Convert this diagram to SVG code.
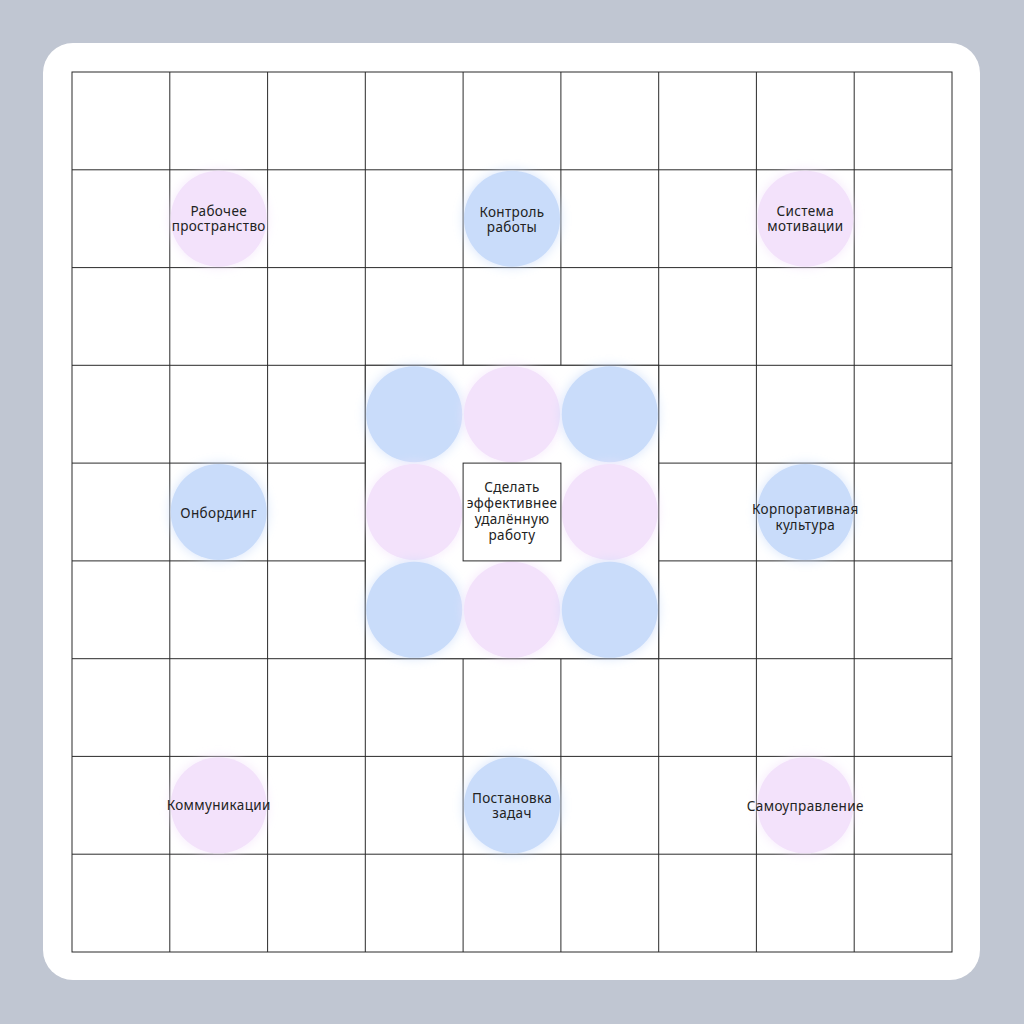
<svg xmlns="http://www.w3.org/2000/svg" width="1024" height="1024" viewBox="0 0 1024 1024">
<defs>
<filter id="glow" x="-40%" y="-40%" width="180%" height="180%">
<feGaussianBlur in="SourceGraphic" stdDeviation="6" result="b"/>
<feComponentTransfer in="b" result="bb"><feFuncA type="linear" slope="0.8"/></feComponentTransfer>
<feMerge><feMergeNode in="bb"/><feMergeNode in="SourceGraphic"/></feMerge>
</filter>
<style>
.g line{stroke:#2a2a2a;stroke-width:1}
.blue{fill:#c9dcfa;filter:url(#glow)}
.pink{fill:#f3e2fb;filter:url(#glow)}
text{font-family:"Noto Sans","DejaVu Sans",sans-serif;font-size:13.5px;letter-spacing:0.35px;fill:#222;text-anchor:middle}
</style>
</defs>
<rect width="1024" height="1024" fill="#c0c6d2"/>
<rect x="43" y="43" width="937" height="937" rx="30" fill="#ffffff"/>
<g class="g" id="grid">
<rect x="72" y="72" width="880" height="880" fill="none" stroke="#2a2a2a" stroke-width="1"/>
<line x1="169.8" y1="72" x2="169.8" y2="952"/>
<line x1="267.6" y1="72" x2="267.6" y2="952"/>
<line x1="365.3" y1="72" x2="365.3" y2="952"/>
<line x1="463.1" y1="72" x2="463.1" y2="952"/>
<line x1="560.9" y1="72" x2="560.9" y2="952"/>
<line x1="658.7" y1="72" x2="658.7" y2="952"/>
<line x1="756.4" y1="72" x2="756.4" y2="952"/>
<line x1="854.2" y1="72" x2="854.2" y2="952"/>
<line y1="169.8" x1="72" y2="169.8" x2="952"/>
<line y1="267.6" x1="72" y2="267.6" x2="952"/>
<line y1="365.3" x1="72" y2="365.3" x2="952"/>
<line y1="463.1" x1="72" y2="463.1" x2="952"/>
<line y1="560.9" x1="72" y2="560.9" x2="952"/>
<line y1="658.7" x1="72" y2="658.7" x2="952"/>
<line y1="756.4" x1="72" y2="756.4" x2="952"/>
<line y1="854.2" x1="72" y2="854.2" x2="952"/>
</g>
<rect x="365.3" y="365.3" width="293.4" height="293.4" fill="#ffffff" stroke="#2a2a2a" stroke-width="1"/>
<g id="center-ring">
<circle class="blue" cx="414.2" cy="414.2" r="48"/>
<circle class="pink" cx="512" cy="414.2" r="48"/>
<circle class="blue" cx="609.8" cy="414.2" r="48"/>
<circle class="pink" cx="414.2" cy="512" r="48"/>
<circle class="pink" cx="609.8" cy="512" r="48"/>
<circle class="blue" cx="414.2" cy="609.8" r="48"/>
<circle class="pink" cx="512" cy="609.8" r="48"/>
<circle class="blue" cx="609.8" cy="609.8" r="48"/>
</g>
<g id="goal">
<rect x="463.1" y="463.1" width="97.8" height="97.8" fill="#ffffff" stroke="#2a2a2a" stroke-width="1"/>
<text x="512" y="492">Сделать</text>
<text x="512" y="508">эффективнее</text>
<text x="512" y="524">удалённую</text>
<text x="512" y="540">работу</text>
</g>
<g id="workspace">
<circle class="pink" cx="218.7" cy="218.7" r="48"/>
<text x="218.7" y="216">Рабочее</text>
<text x="218.7" y="231">пространство</text>
</g>
<g id="control">
<circle class="blue" cx="512" cy="218.7" r="48"/>
<text x="512" y="217">Контроль</text>
<text x="512" y="232">работы</text>
</g>
<g id="motivation">
<circle class="pink" cx="805.3" cy="218.7" r="48"/>
<text x="805.3" y="216">Система</text>
<text x="805.3" y="231">мотивации</text>
</g>
<g id="onboarding">
<circle class="blue" cx="218.7" cy="512" r="48"/>
<text x="218.7" y="518">Онбординг</text>
</g>
<g id="culture">
<circle class="blue" cx="805.3" cy="512" r="48"/>
<text x="805.3" y="514">Корпоративная</text>
<text x="805.3" y="530">культура</text>
</g>
<g id="communications">
<circle class="pink" cx="218.7" cy="805.3" r="48"/>
<text x="218.7" y="810">Коммуникации</text>
</g>
<g id="tasks">
<circle class="blue" cx="512" cy="805.3" r="48"/>
<text x="512" y="803">Постановка</text>
<text x="512" y="818">задач</text>
</g>
<g id="selfmanagement">
<circle class="pink" cx="805.3" cy="805.3" r="48"/>
<text x="805.3" y="811">Самоуправление</text>
</g>
<g id="connectors"/>
</svg>
